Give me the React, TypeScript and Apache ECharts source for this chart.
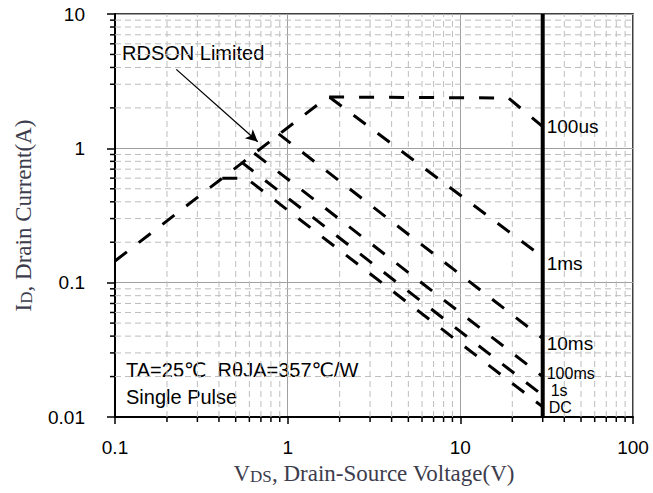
import React, { useEffect, useRef } from "react";
import * as echarts from "echarts";

// Axis ranges and tick labels
const xTickValues = [0.1, 1, 10, 100];
const xTickLabels = ["0.1", "1", "10", "100"];
const yTickValues = [0.01, 0.1, 1, 10];
const yTickLabels = ["0.01", "0.1", "1", "10"];
const xMinorTicks = [0.2, 0.3, 0.4, 0.5, 0.6, 0.7, 0.8, 0.9, 2, 3, 4, 5, 6, 7, 8, 9, 20, 30, 40, 50, 60, 70, 80, 90];
const yMinorTicks = [0.02, 0.03, 0.04, 0.05, 0.06, 0.07, 0.08, 0.09, 0.2, 0.3, 0.4, 0.5, 0.6, 0.7, 0.8, 0.9, 2, 3, 4, 5, 6, 7, 8, 9];

// SOA curves [VDS (V), ID (A)]
const curveNames = ["100us", "1ms", "10ms", "100ms", "1s", "DC"];
const curve100us = [[0.1, 0.145], [1.7, 2.41], [19, 2.37], [30, 1.45]];
const curve1ms = [[1.75, 2.4], [30, 0.155]];
const curve10ms = [[0.887, 1.28], [30, 0.0385]];
const curve100ms = [[0.64, 0.92], [30, 0.02]];
const curve1s = [[0.54, 0.79], [30, 0.0145]];
const curveDC = [[0.418, 0.6], [0.575, 0.6], [30, 0.0119]];
const vdsLimit = [[30, 0.01], [30, 10]];
const rdsonArrow = [[0.2265, 3.87], [0.671, 1.12]];

const curves = [curve100us, curve1ms, curve10ms, curve100ms, curve1s, curveDC];
const labelOffsets = [[0, 0], [0, 6], [0, 5], [0, -3], [4, -5], [2, 1]];
const labelSizes = [19, 19, 19, 16, 16, 16];

const SANS = '"Liberation Sans", Arial, "DejaVu Sans", sans-serif';
const SERIF = '"Liberation Serif", "Times New Roman", serif';
const NAME_COLOR = "#3c3c4c";

const xMin = xTickValues[0];
const xMax = xTickValues[xTickValues.length - 1];
const yMin = yTickValues[0];
const yMax = yTickValues[yTickValues.length - 1];

function buildOption(): any {
  const curveSeries = curves.map((data, i) => ({
    type: "line",
    name: curveNames[i],
    data,
    symbol: "none",
    silent: true,
    z: 3,
    lineStyle: { color: "#000", width: 3, type: [15, 15] },
    endLabel: {
      show: true,
      formatter: curveNames[i],
      color: "#000",
      fontSize: labelSizes[i],
      lineHeight: labelSizes[i],
      fontFamily: SANS,
      distance: 4,
      offset: labelOffsets[i],
    },
    markLine:
      i === 0
        ? {
            silent: true,
            symbol: ["none", "arrow"],
            symbolSize: [9, 12],
            label: { show: false },
            lineStyle: { type: "solid", color: "#000", width: 1.3 },
            data: [[{ coord: rdsonArrow[0] }, { coord: rdsonArrow[1] }]],
          }
        : undefined,
  }));

  const nameRich = {
    big: { fontSize: 23, fontFamily: SERIF, color: NAME_COLOR, lineHeight: 24, verticalAlign: "bottom" },
    small: { fontSize: 17, fontFamily: SERIF, color: NAME_COLOR, lineHeight: 24, verticalAlign: "bottom" },
  };

  return {
    animation: false,
    backgroundColor: "#fff",
    grid: { left: 115, right: 20, top: 14, bottom: 76, show: true, borderColor: "#000", borderWidth: 1.5 },
    xAxis: {
      type: "log",
      logBase: 10,
      min: xMin,
      max: xMax,
      axisLine: { show: true, lineStyle: { color: "#000", width: 2 } },
      axisTick: { show: true, length: 7, lineStyle: { color: "#000", width: 1.5 } },
      axisLabel: {
        margin: 21,
        fontSize: 19,
        color: "#000",
        fontFamily: SANS,
        formatter: (v: number) => xTickLabels[Math.round(Math.log10(v)) + 1],
      },
      splitLine: { show: true, lineStyle: { color: "#a0a0a0", width: 1 } },
      name: "{big|V}{small|DS}{big|, Drain-Source Voltage(V)}",
      nameLocation: "middle",
      nameGap: 42,
      nameTextStyle: { rich: nameRich },
    },
    yAxis: {
      type: "log",
      logBase: 10,
      min: yMin,
      max: yMax,
      axisLine: { show: true, lineStyle: { color: "#000", width: 2 } },
      axisTick: { show: true, length: 8, lineStyle: { color: "#000", width: 1.5 } },
      axisLabel: {
        margin: 30,
        fontSize: 19,
        color: "#000",
        fontFamily: SANS,
        formatter: (v: number) => yTickLabels[Math.round(Math.log10(v)) + 2],
      },
      splitLine: { show: true, lineStyle: { color: "#a0a0a0", width: 1 } },
      name: "{big|I}{small|D}{big|, Drain Current(A)}",
      nameLocation: "middle",
      nameGap: 80,
      nameTextStyle: { rich: nameRich },
    },
    graphic: [
      {
        type: "text",
        x: 122,
        y: 53,
        silent: true,
        style: { text: "RDSON Limited", fontSize: 20, fontFamily: SANS, fill: "#000", verticalAlign: "middle" },
      },
      {
        type: "text",
        x: 126,
        y: 370,
        silent: true,
        style: { text: "TA=25\u2103  R\u03b8JA=357\u2103/W", fontSize: 20, fontFamily: SANS, fill: "#000", verticalAlign: "middle" },
      },
      {
        type: "text",
        x: 126,
        y: 397,
        silent: true,
        style: { text: "Single Pulse", fontSize: 20, fontFamily: SANS, fill: "#000", verticalAlign: "middle" },
      },
    ],
    series: [
      {
        type: "custom",
        silent: true,
        clip: false,
        z: 1,
        data: xMinorTicks.map((v) => [v, 1]),
        renderItem: (params: any, api: any) => {
          const v = api.value(0);
          const b = api.coord([v, yMin]);
          const t = api.coord([v, yMax]);
          return {
            type: "group",
            children: [
              { type: "line", shape: { x1: b[0], y1: b[1], x2: t[0], y2: t[1] }, style: { stroke: "#bdbdbd", lineWidth: 1, lineDash: [6, 4] } },
              { type: "line", shape: { x1: b[0], y1: b[1], x2: b[0], y2: b[1] + 5 }, style: { stroke: "#000", lineWidth: 1.5 } },
            ],
          };
        },
      },
      {
        type: "custom",
        silent: true,
        clip: false,
        z: 1,
        data: yMinorTicks.map((v) => [1, v]),
        renderItem: (params: any, api: any) => {
          const v = api.value(1);
          const l = api.coord([xMin, v]);
          const r = api.coord([xMax, v]);
          return {
            type: "group",
            children: [
              { type: "line", shape: { x1: l[0], y1: l[1], x2: r[0], y2: r[1] }, style: { stroke: "#bdbdbd", lineWidth: 1, lineDash: [6, 4] } },
              { type: "line", shape: { x1: l[0] - 5, y1: l[1], x2: l[0], y2: l[1] }, style: { stroke: "#000", lineWidth: 1.5 } },
            ],
          };
        },
      },
      ...curveSeries,
      {
        type: "line",
        name: "VDS limit",
        data: vdsLimit,
        symbol: "none",
        silent: true,
        z: 4,
        lineStyle: { color: "#000", width: 4, type: "solid" },
      },
    ],
  };
}

export default function App() {
  const ref = useRef<HTMLDivElement>(null);
  useEffect(() => {
    if (!ref.current) return;
    const chart = echarts.init(ref.current, null, { renderer: "svg" });
    chart.setOption(buildOption());
    return () => chart.dispose();
  }, []);
  return (
    <div
      ref={ref}
      style={{ position: "fixed", left: 0, top: 0, width: 653, height: 493, background: "#fff" }}
    />
  );
}
